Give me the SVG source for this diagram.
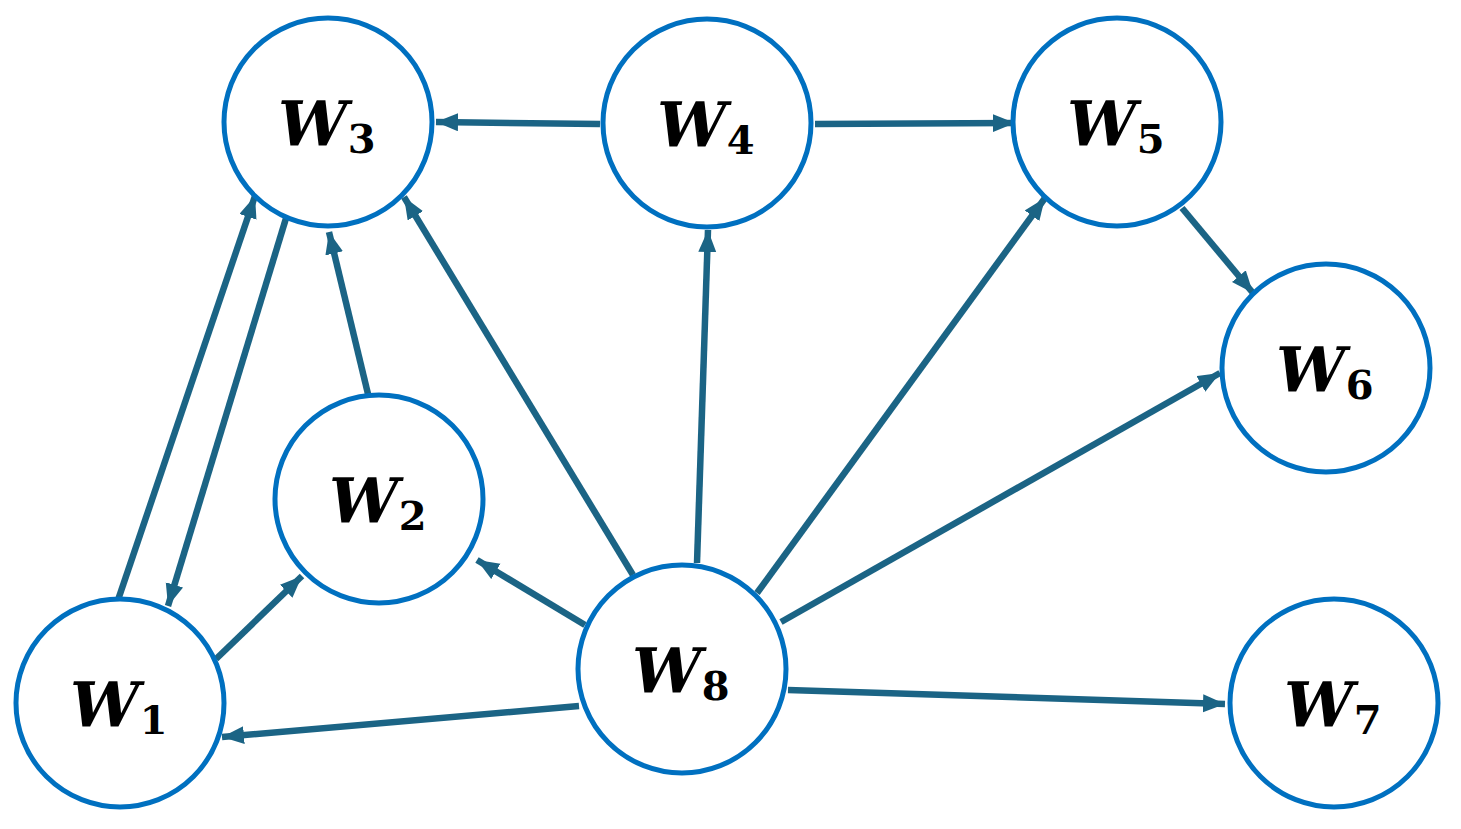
<svg xmlns="http://www.w3.org/2000/svg" width="1461" height="829" viewBox="0 0 1461 829">
<style>
.n{fill:#fff;stroke:#0070C0;stroke-width:5}
.t{font-family:"DejaVu Serif","Liberation Serif",serif;font-weight:bold;font-style:italic;font-size:62px;fill:#000}
.s{font-size:40px;font-style:normal}
#edges line{stroke:#1B6485;stroke-width:6.5;marker-end:url(#a)}
</style>
<defs><marker id="a" markerUnits="userSpaceOnUse" markerWidth="24" markerHeight="20" refX="22" refY="9" orient="auto"><path d="M0,0 L22,9 L0,18 Z" fill="#1B6485"/></marker></defs>
<rect width="1461" height="829" fill="#fff"/>
<g id="edges">
<line x1="600" y1="124" x2="436" y2="122"/>
<line x1="815" y1="124" x2="1015" y2="123"/>
<line x1="1182" y1="208" x2="1253" y2="293"/>
<line x1="697" y1="563" x2="708" y2="230"/>
<line x1="633" y1="575" x2="404" y2="197"/>
<line x1="757" y1="593" x2="1045" y2="198"/>
<line x1="781" y1="622" x2="1220" y2="373"/>
<line x1="788" y1="690" x2="1225" y2="704"/>
<line x1="579" y1="706" x2="222" y2="737"/>
<line x1="585" y1="625" x2="477" y2="560"/>
<line x1="216" y1="659" x2="302" y2="576"/>
<line x1="118" y1="600" x2="255" y2="196"/>
<line x1="287" y1="215" x2="168" y2="606"/>
<line x1="368" y1="394" x2="329" y2="232"/>
</g>
<g id="W3"><circle class="n" cx="328" cy="122" r="104"/><text class="t" x="278" y="145">W<tspan class="s" dy="8">3</tspan></text></g>
<g id="W4"><circle class="n" cx="707" cy="123" r="104"/><text class="t" x="657" y="146">W<tspan class="s" dy="8">4</tspan></text></g>
<g id="W5"><circle class="n" cx="1117" cy="122" r="104"/><text class="t" x="1067" y="145">W<tspan class="s" dy="8">5</tspan></text></g>
<g id="W6"><circle class="n" cx="1326" cy="368" r="104"/><text class="t" x="1276" y="391">W<tspan class="s" dy="8">6</tspan></text></g>
<g id="W2"><circle class="n" cx="379" cy="499" r="104"/><text class="t" x="329" y="522">W<tspan class="s" dy="8">2</tspan></text></g>
<g id="W1"><circle class="n" cx="120" cy="703" r="104"/><text class="t" x="70" y="726">W<tspan class="s" dy="8">1</tspan></text></g>
<g id="W8"><circle class="n" cx="682" cy="669" r="104"/><text class="t" x="632" y="692">W<tspan class="s" dy="8">8</tspan></text></g>
<g id="W7"><circle class="n" cx="1334" cy="703" r="104"/><text class="t" x="1284" y="726">W<tspan class="s" dy="8">7</tspan></text></g>
</svg>
